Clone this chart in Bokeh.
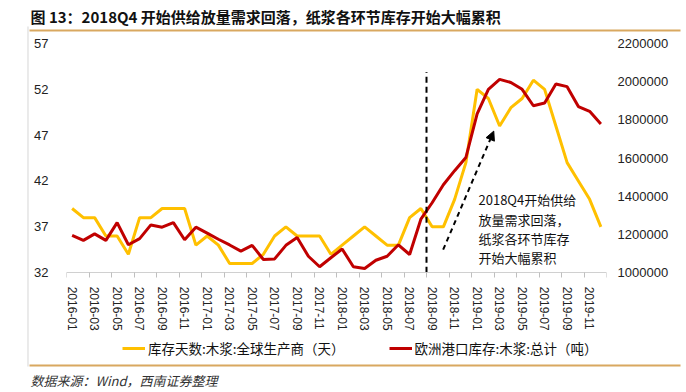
from bokeh.plotting import figure
from bokeh.models import (Range1d, LinearAxis, FixedTicker, NumeralTickFormatter,
                          Arrow, NormalHead, Label, Legend, LegendItem, Title,
                          ColorBar, LinearColorMapper)
from bokeh.embed import file_html
from bokeh.resources import INLINE

# ---------------- data ----------------
months = [f"{y}-{m:02d}" for y in range(2016, 2020) for m in range(1, 13)]

days_pulp = [39, 38, 38, 36, 36, 34, 38, 38, 39, 39, 39, 35,
             36, 35, 33, 33, 33, 34, 36, 37, 36, 36, 36, 34,
             35, 36, 37, 36, 35, 35, 38, 39, 37, 37, 40, 44,
             52, 51, 48, 50, 51, 53, 52, 48, 44, 42, 40, 37]

eu_port_stock = [1195000, 1169000, 1203000, 1169000, 1262000, 1146000, 1178000, 1250000, 1238000, 1262000, 1172000, 1238000,
                 1207000, 1175000, 1145000, 1113000, 1143000, 1069000, 1072000, 1143000, 1184000, 1086000, 1031000, 1078000,
                 1124000, 1031000, 1022000, 1065000, 1086000, 1146000, 1095000, 1280000, 1366000, 1460000, 1534000, 1603000,
                 1832000, 1960000, 2012000, 1996000, 1960000, 1874000, 1888000, 1988000, 1974000, 1870000, 1845000, 1779000]

left_ticks = [32, 37, 42, 47, 52, 57]
right_ticks = [1000000, 1200000, 1400000, 1600000, 1800000, 2000000, 2200000]

series_names = ["库存天数:木浆:全球生产商（天）", "欧洲港口库存:木浆:总计（吨）"]
title_text = "图 13：2018Q4 开始供给放量需求回落，纸浆各环节库存开始大幅累积"
source_text = "数据来源：Wind，西南证券整理"
note_lines = ["2018Q4开始供给", "放量需求回落，", "纸浆各环节库存", "开始大幅累积"]

# annotation positions (category-index / left-axis space)
split_index = 31.5          # boundary between 2018-08 and 2018-09
split_top = 53.9
arrow_start = (32.98, 34.5)
arrow_end = (37.48, 47.44)

YELLOW = "#FFC000"
RED = "#C00000"
GOLD = "#D9A860"
FRAME_GRAY = "#D6D6D6"
CLEAR = "rgba(255, 255, 255, 0)"
FONT = "Liberation Sans"
CJK = "Noto Sans CJK SC"

# ---------------- layout geometry (pixels) ----------------
W, H = 686, 392
FRAME_L, FRAME_R, FRAME_T, FRAME_B = 66, 606, 43, 368
AXIS_Y = 275                      # pixel row of the value axes' minimum
axis_h = AXIS_Y - FRAME_T
ext = (FRAME_B - AXIS_Y) / axis_h  # extra room below axis (legend area)
L_LO, L_HI = left_ticks[0], left_ticks[-1]
R_LO, R_HI = right_ticks[0], right_ticks[-1]
BOX_L, BOX_R = 29, 680             # outer box edges

xs = list(range(len(months)))

p = figure(width=W, height=H, output_backend="svg", toolbar_location=None,
           x_range=Range1d(-0.5, len(months) - 0.5),
           y_range=Range1d(L_LO - ext * (L_HI - L_LO), L_HI),
           min_border_left=FRAME_L, min_border_right=W - FRAME_R,
           min_border_top=FRAME_T, min_border_bottom=H - FRAME_B,
           x_axis_location=None, y_axis_location=None)
p.outline_line_color = None
p.xgrid.visible = False
p.ygrid.visible = False
p.background_fill_color = "white"
p.border_fill_color = "white"
p.extra_y_ranges = {"r": Range1d(R_LO - ext * (R_HI - R_LO), R_HI)}

# title
p.title.text = title_text
p.title.align = "left"
p.title.offset = -36
p.title.standoff = 5
p.title.text_font = CJK
p.title.text_font_size = "15px"
p.title.text_font_style = "bold"
p.title.text_color = "#111111"


def rule(palette, orientation, width, height, location):
    return ColorBar(color_mapper=LinearColorMapper(palette=palette, low=0, high=len(palette)),
                    orientation=orientation, width=width, height=height, location=location,
                    padding=0, margin=0, ticker=FixedTicker(ticks=[]), label_standoff=0,
                    major_tick_line_color=None, minor_tick_line_color=None,
                    bar_line_color=None, border_line_color=None, background_fill_alpha=0)


# top gold rule (2px gold at the top of a 14px transparent band)
p.add_layout(rule([CLEAR] * 6 + [GOLD], "vertical", BOX_R - BOX_L, 14, (BOX_L - FRAME_L, 0)), "above")

# x axis, pinned at the value-axis minimum
xax = LinearAxis(ticker=FixedTicker(ticks=list(range(0, 48, 2)),
                                    minor_ticks=[i - 0.5 for i in range(0, 49, 2)]),
                 fixed_location=L_LO)
xax.major_label_overrides = {i: months[i] for i in range(0, 48, 2)}
xax.major_tick_out = 0
xax.major_tick_in = 0
xax.minor_tick_out = 5
xax.minor_tick_in = 0
xax.minor_tick_line_color = "#bfbfbf"
xax.axis_line_color = "#d0d0d0"
xax.major_label_orientation = "vertical"
xax.major_label_standoff = 9
xax.major_label_text_font = FONT
xax.major_label_text_font_size = "12px"
xax.major_label_text_color = "#222222"
p.add_layout(xax, "below")

# left axis
lax = LinearAxis(ticker=FixedTicker(ticks=left_ticks))
lax.axis_line_color = None
lax.major_tick_line_color = None
lax.minor_tick_line_color = None
lax.major_tick_out = 0
lax.major_tick_in = 0
lax.major_label_standoff = 18
lax.major_label_text_font = FONT
lax.major_label_text_font_size = "13px"
lax.major_label_text_color = "#222222"
p.add_layout(lax, "left")

# left gray box edge (1px gray at the left of a 4px transparent strip)
p.add_layout(rule([FRAME_GRAY, CLEAR, CLEAR, CLEAR], "horizontal", 4, 340, (0, -2)), "left")

# right axis
rax = LinearAxis(y_range_name="r", ticker=FixedTicker(ticks=right_ticks),
                 formatter=NumeralTickFormatter(format="0"))
rax.axis_line_color = None
rax.major_tick_line_color = None
rax.minor_tick_line_color = None
rax.major_tick_out = 0
rax.major_tick_in = 0
rax.major_label_standoff = 11
rax.major_label_text_font = FONT
rax.major_label_text_font_size = "13px"
rax.major_label_text_color = "#222222"
p.add_layout(rax, "right")

# lines
r1 = p.line(xs, days_pulp, line_color=YELLOW, line_width=3)
r2 = p.line(xs, eu_port_stock, line_color=RED, line_width=3, y_range_name="r")

# dashed split line and arrow
p.segment(x0=[split_index], y0=[L_LO], x1=[split_index], y1=[split_top],
          line_color="black", line_width=2, line_dash="6 4")
p.add_layout(Arrow(x_start=arrow_start[0], y_start=arrow_start[1],
                   x_end=arrow_end[0], y_end=arrow_end[1],
                   line_color="black", line_width=2, line_dash="5 4",
                   end=NormalHead(size=9, fill_color="black", line_color="black")))

# note text (page pixel positions converted to frame-relative)
note_x, note_y0, note_dy = 478, 203.3, 19.2
for k, t in enumerate(note_lines):
    p.add_layout(Label(x=note_x - FRAME_L, y=FRAME_B - (note_y0 + note_dy * k),
                       x_units="screen", y_units="screen",
                       text=t, text_font=CJK, text_font_size="13px",
                       text_baseline="middle", text_color="#111111"))

# legend (inside the extended frame, under the axis labels)
legend = Legend(items=[LegendItem(label=series_names[0], renderers=[r1]),
                       LegendItem(label=series_names[1], renderers=[r2])],
                orientation="horizontal", location=(122 - FRAME_L, FRAME_B - 362),
                glyph_width=23, glyph_height=20, label_height=20, label_standoff=3,
                spacing=44, padding=0, margin=0,
                border_line_color=None, background_fill_alpha=0,
                label_text_font=CJK, label_text_font_size="13.5px", label_text_color="#111111")
p.add_layout(legend, "center")

# bottom gold rule
p.add_layout(rule([GOLD], "vertical", BOX_R - BOX_L, 2, (BOX_L - FRAME_L, 0)), "below")

# source note
p.add_layout(Title(text=source_text, align="left", offset=-36, standoff=5,
                   text_font=CJK, text_font_size="13px", text_font_style="italic",
                   text_color="#333333"), "below")

open("out.html", "w").write(file_html(p, INLINE))
